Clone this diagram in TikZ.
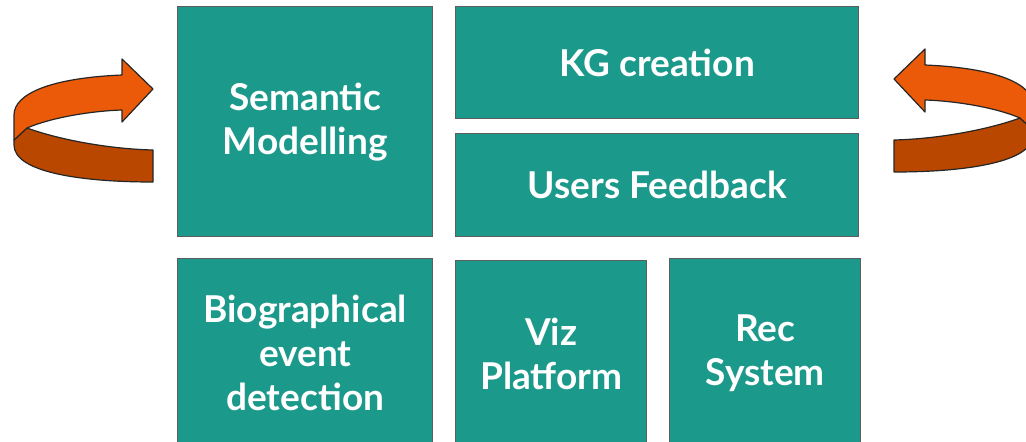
\documentclass[tikz,border=0pt]{standalone}
\usepackage{fontspec}
\setmainfont{Lato}
\definecolor{teal1}{HTML}{1B998B}
\definecolor{bord}{HTML}{5E5E5E}
\definecolor{orlight}{HTML}{EA5A08}
\definecolor{ordark}{HTML}{B94700}
\begin{document}
\begin{tikzpicture}[x=1pt,y=-1pt,
  box/.style={draw=bord, line width=1.4pt, fill=teal1, anchor=north west, inner sep=0pt,
    text=white, font=\fontsize{37}{44}\selectfont\bfseries, align=center},
  light/.style={fill=orlight, draw=black!85, line width=1.2pt, line join=round},
  dark/.style={fill=ordark, draw=black!85, line width=1.2pt, line join=round}]
\useasboundingbox (0,0) rectangle (1026,442);
\fill[white] (0,0) rectangle (1026,442);
% boxes
\node[box, minimum width=255pt, minimum height=230pt] (sem) at (177,6) {Semantic\\Modelling};
\node[box, minimum width=403pt, minimum height=112pt] (kg) at (455,6) {KG creation};
\node[box, minimum width=403pt, minimum height=103pt] (uf) at (455,133) {Users Feedback};
\node[box, minimum width=255pt, minimum height=189pt] (bio) at (177,258) {Biographical\\event\\detection};
\node[box, minimum width=191pt, minimum height=187pt] (viz) at (455,260) {Viz\\Platform};
\node[box, minimum width=191pt, minimum height=189pt] (rec) at (669,258) {Rec\\System};
% left curved arrow
\begin{scope}
  \draw[dark] (14,140) -- (27,128) .. controls (60,140) and (110,149) .. (153,150)
     -- (153,182) .. controls (80,182) and (14,172) .. (14,145) -- cycle;
  \draw[light] (153,89) -- (122,59) -- (122,75) .. controls (50,78) and (14,94) .. (14,115)
     -- (14,140) -- (27,128) .. controls (50,118) and (90,111) .. (122,110) -- (122,122) -- cycle;
\end{scope}
% right curved arrow (mirror)
\begin{scope}[shift={(1047,-10)}, xscale=-1]
  \draw[dark] (14,140) -- (27,128) .. controls (60,140) and (110,149) .. (153,150)
     -- (153,182) .. controls (80,182) and (14,172) .. (14,145) -- cycle;
  \draw[light] (153,89) -- (122,59) -- (122,75) .. controls (50,78) and (14,94) .. (14,115)
     -- (14,140) -- (27,128) .. controls (50,118) and (90,111) .. (122,110) -- (122,122) -- cycle;
\end{scope}
\end{tikzpicture}
\end{document}
